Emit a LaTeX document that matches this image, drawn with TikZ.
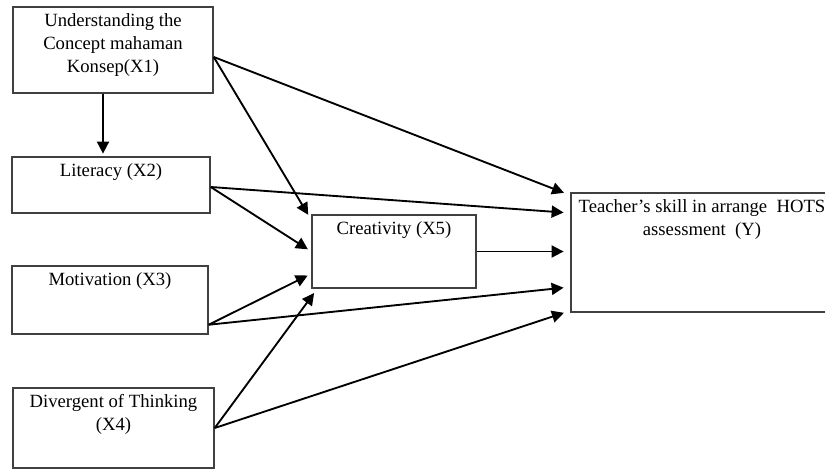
\documentclass[tikz,border=0pt]{standalone}
\usepackage{fontspec}
\setmainfont{Liberation Serif}
\usetikzlibrary{arrows.meta,calc}

\begin{document}
\begin{tikzpicture}[x=0.75pt,y=-0.75pt,
    box/.style={draw=black!75,line width=1.1pt,inner sep=0pt},
    boxtext/.style={anchor=north,align=center,inner sep=5pt,font=\fontsize{14}{17.5}\selectfont},
    link/.style={-{Triangle[length=9pt,width=9pt]},line width=1.4pt,shorten >=#1},
    link/.default=5pt]
  \def\px{0.75pt}
  \clip (0,0) rectangle (825,470);
  % variables
  \node[box,minimum width=200*\px,minimum height=86*\px] (xone) at (113,50) {};
  \node[box,minimum width=198*\px,minimum height=56*\px] (xtwo) at (111,185) {};
  \node[box,minimum width=196*\px,minimum height=68*\px] (xthree) at (110,300) {};
  \node[box,minimum width=201*\px,minimum height=80*\px] (xfour) at (113.5,428) {};
  \node[box,minimum width=164*\px,minimum height=73*\px] (xfive) at (394,251.5) {};
  \node[box,minimum width=262*\px,minimum height=119*\px] (ybox) at (702,252.5) {};
  \node[boxtext] (xonetext) at (xone.north) {Understanding the\\Concept mahaman\\Konsep(X1)};
  \node[boxtext] (xtwotext) at (xtwo.north) {Literacy (X2)};
  \node[boxtext] (xthreetext) at (xthree.north) {Motivation (X3)};
  \node[boxtext] (xfourtext) at (xfour.north) {Divergent of Thinking\\(X4)};
  \node[boxtext] (xfivetext) at (xfive.north) {Creativity (X5)};
  \node[boxtext] (ytext) at (ybox.north) {Teacher’s skill in arrange\ \ HOTS\\assessment\ \ (Y)};
  % start and end points of the paths
  \coordinate (xonefoot) at ($(xone.south)+(-10,0)$);
  \coordinate (xoneout) at ($(xone.east)+(0,7)$);
  \coordinate (xtwoout) at ($(xtwo.east)+(0,2)$);
  \coordinate (xthreeout) at ($(xthree.south east)+(0,-10)$);
  \coordinate (xfiveone) at ($(xfive.north west)+(-1,4)$);
  \coordinate (xfivethree) at ($(xfive.south west)+(0,-15)$);
  \coordinate (xfivefour) at ($(xfive.south west)+(6,0)$);
  \coordinate (yone) at ($(ybox.north west)+(0,3)$);
  \coordinate (ytwo) at ($(ybox.west)+(0,-39.5)$);
  \coordinate (ythree) at ($(ybox.west)+(0,34.5)$);
  \coordinate (yfour) at ($(ybox.south west)+(0,-2)$);
  \draw[link=2pt] (xonefoot) -- (xonefoot |- xtwo.north);
  \foreach \from/\to/\gap in {xoneout/yone/5pt, xoneout/xfiveone/3pt, xtwoout/ytwo/5pt,
      xtwoout/xfive.west/3pt, xthreeout/xfivethree/3pt, xthreeout/ythree/5pt,
      xfour.east/xfivefour/4pt, xfour.east/yfour/5pt}
    \draw[link=\gap] (\from) -- (\to);
  \draw[link] (xfive.east) -- (xfive.east -| ybox.west);
\end{tikzpicture}
\end{document}
